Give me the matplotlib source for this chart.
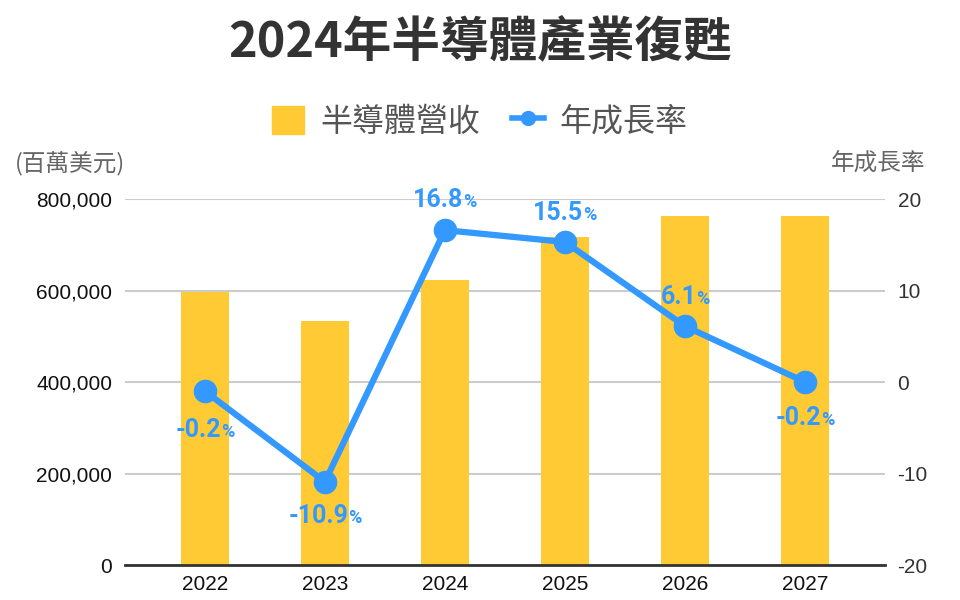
import matplotlib
matplotlib.use('Agg')
from matplotlib import pyplot as plt
from matplotlib.patches import Patch
from matplotlib.lines import Line2D
from matplotlib.offsetbox import TextArea, HPacker, AnnotationBbox

plt.rcParams['font.family'] = ['Noto Sans CJK TC', 'DejaVu Sans']

years = ['2022', '2023', '2024', '2025', '2026', '2027']
revenue = [597000, 533000, 623000, 717000, 763000, 763000]   # 百萬美元
growth = [-1.0, -10.9, 16.6, 15.3, 6.1, 0.0]                  # plotted position
growth_labels = ['-0.2', '-10.9', '16.8', '15.5', '6.1', '-0.2']
label_offsets = [-28, -25, 22, 21, 21, -26]   # points below/above marker

bar_color = '#FFCA33'
line_color = '#3399FF'

fig = plt.figure(figsize=(9.6, 6), dpi=100)
ax = fig.add_axes([0.130, 0.0583, 0.792, 0.610])
x = list(range(len(years)))

ax.bar(x, revenue, width=0.4, color=bar_color, zorder=2)
ax.set_xlim(-0.667, 5.667)
ax.set_ylim(0, 800000)
ax.set_yticks([0, 200000, 400000, 600000, 800000])
ax.set_yticklabels(['{:,}'.format(v) for v in [0, 200000, 400000, 600000, 800000]],
                   family='Liberation Sans', fontsize=15, color='#111111')
ax.set_xticks(x)
ax.set_xticklabels(years, family='Liberation Sans', fontsize=15, color='#111111')
ax.tick_params(length=0, pad=9)
ax.tick_params(axis='x', pad=7)
for s in ['top', 'right', 'left']:
    ax.spines[s].set_visible(False)
ax.spines['bottom'].set_color('#333333')
ax.spines['bottom'].set_linewidth(2)
ax.spines['bottom'].set_zorder(5)
ax.grid(axis='y', color='#CCCCCC', linewidth=1.5, zorder=0)
ax.set_axisbelow(True)

ax2 = ax.twinx()
ax2.set_ylim(-20, 20)
ax2.set_yticks([-20, -10, 0, 10, 20])
ax2.set_yticklabels(['-20', '-10', '0', '10', '20'], family='Liberation Sans',
                    fontsize=15, color='#333333')
ax2.tick_params(length=0, pad=9)
for s in ['top', 'right', 'left', 'bottom']:
    ax2.spines[s].set_visible(False)
ax2.plot(x, growth, color=line_color, linewidth=4.5, marker='o', markersize=16,
         zorder=4, solid_capstyle='round')

for i in range(len(x)):
    num = TextArea(growth_labels[i], textprops=dict(color=line_color, fontsize=18,
                                                    fontweight='bold', family='Roboto'))
    pct = TextArea('%', textprops=dict(color=line_color, fontsize=13,
                                       fontweight='bold', family='Roboto'))
    box = HPacker(children=[num, pct], align='baseline', pad=0, sep=0)
    ab = AnnotationBbox(box, (x[i], growth[i]), xybox=(0, label_offsets[i]),
                        xycoords='data', boxcoords='offset points', frameon=False,
                        box_alignment=(0.5, 0.5), zorder=6)
    ax2.add_artist(ab)

fig.text(0.5, 0.93, '2024年半導體產業復甦', ha='center', va='center',
         fontsize=35, fontweight='bold', color='#333333')

handles = [Patch(facecolor=bar_color, edgecolor=bar_color),
           Line2D([0], [0], color=line_color, linewidth=4, marker='o', markersize=10)]
fig.legend(handles, ['半導體營收', '年成長率'], loc='center', bbox_to_anchor=(0.5, 0.797),
           ncol=2, frameon=False, fontsize=23, labelcolor='#555555',
           handlelength=1.0, handleheight=1.0, columnspacing=1.0, handletextpad=0.5)

fig.text(0.016, 0.727, '(百萬美元)', ha='left', va='center', fontsize=17, color='#666666')
fig.text(0.964, 0.727, '年成長率', ha='right', va='center', fontsize=17, color='#666666')

fig.savefig('out.png', dpi=100)
